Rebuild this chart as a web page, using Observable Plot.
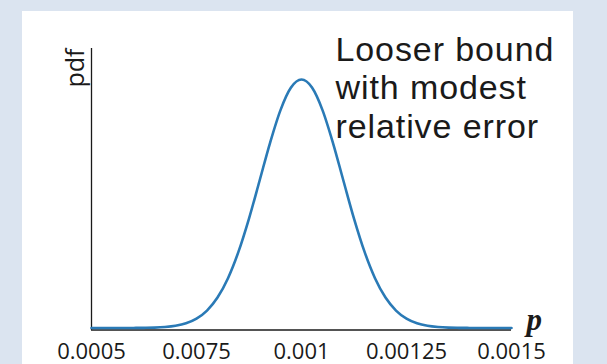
<!DOCTYPE html>
<html><head><meta charset="utf-8">
<script src="https://cdn.jsdelivr.net/npm/d3@7"></script>
<script src="https://cdn.jsdelivr.net/npm/@observablehq/plot@0.6"></script>
<style>
html,body{margin:0;padding:0;}
body{width:607px;height:364px;background:#dbe4f0;position:relative;overflow:hidden;}
#panel{position:absolute;left:22px;top:11px;width:551px;height:360px;background:#fff;}
#chart{position:absolute;left:0;top:0;}
.note text{letter-spacing:0.9px;}
</style></head><body>
<div id="panel"></div><div id="chart"></div>
<script>
const pValues = [0.0005,0.000525,0.00055,0.000575,0.0006,0.000625,0.00065,0.000675,0.0007,0.000725,
  0.00075,0.000775,0.0008,0.000825,0.00085,0.000875,0.0009,0.000925,0.00095,0.000975,
  0.001,
  0.001025,0.00105,0.001075,0.0011,0.001125,0.00115,0.001175,0.0012,0.001225,0.00125,
  0.001275,0.0013,0.001325,0.00135,0.001375,0.0014,0.001425,0.00145,0.001475,0.0015];
const pdfValues = [0,0,0,0,1,2.5,6,16,36,76,
  151,281,490,802,1229,1762,2367,2978,3508,3871,
  4000,
  3871,3508,2978,2367,1762,1229,802,490,281,151,
  76,36,16,6,2.5,1,0,0,0,0];
const tickValues = [0.0005, 0.00075, 0.001, 0.00125, 0.0015];
const tickLabels = ["0.0005", "0.0075", "0.001", "0.00125", "0.0015"];
const annotation = ["Looser bound", "with modest", "relative error"];
const yLabel = "pdf";
const xLabel = "p";

const data = pValues.map((p, i) => ({p, pdf: pdfValues[i]}));
const labelOf = new Map(tickValues.map((v, i) => [v, tickLabels[i]]));

const chart = Plot.plot({
  width: 607, height: 364,
  marginLeft: 91, marginRight: 96, marginTop: 48, marginBottom: 36.5,
  style: {background: "transparent", fontFamily: "'Open Sans', sans-serif", overflow: "visible", color: "#1a1a1a"},
  x: {domain: [tickValues[0], tickValues[tickValues.length - 1]]},
  y: {domain: [0, 4500], axis: null},
  marks: [
    Plot.ruleX([tickValues[0]], {stroke: "#1a1a1a", strokeWidth: 1.3, insetBottom: -2.5}),
    Plot.ruleY([0], {stroke: "#1a1a1a", strokeWidth: 1.3, dy: 2}),
    Plot.line(data, {x: "p", y: "pdf", stroke: "#2a7ab6", strokeWidth: 2.6, curve: "monotone-x"}),
    Plot.axisX({ticks: tickValues, tickFormat: d => labelOf.get(d), tickSize: 0, tickPadding: 15, fontSize: 22, label: null, fill: "#1a1a1a"}),
    Plot.text([annotation.join("\n")], {text: d => d, className: "note", frameAnchor: "top-left", dx: 244, dy: -15, textAnchor: "start", lineAnchor: "top", fontSize: 34, lineHeight: 1.132, fontFamily: "'Liberation Sans', Arial, sans-serif", fill: "#1a1a1a"}),
    Plot.text([yLabel], {text: d => d, frameAnchor: "top-left", rotate: -90, textAnchor: "end", lineAnchor: "bottom", dx: -8, dy: 0, fontSize: 25, fill: "#1a1a1a"}),
    Plot.text([xLabel], {text: d => d, frameAnchor: "bottom-right", textAnchor: "start", lineAnchor: "bottom", dx: 15, dy: 2, fontSize: 31, fontFamily: "'Liberation Serif', serif", fontWeight: "bold", fontStyle: "italic", fill: "#1a1a1a"})
  ]
});
document.getElementById("chart").appendChild(chart);
</script>
</body></html>
